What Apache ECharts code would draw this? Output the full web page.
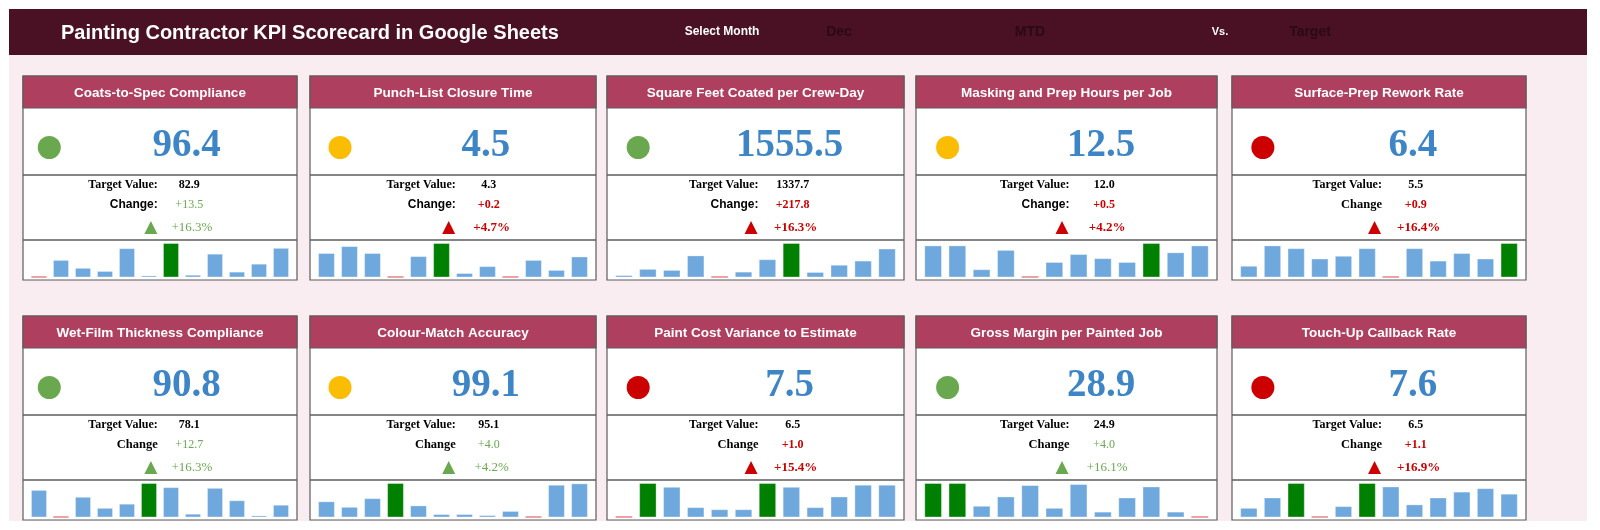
<!DOCTYPE html>
<html>
<head>
<meta charset="utf-8">
<title>Painting Contractor KPI Scorecard</title>
<script src="https://cdn.jsdelivr.net/npm/echarts@6/dist/echarts.min.js"></script>
<style>
  html, body { margin: 0; padding: 0; background: #ffffff; }
  #chart { width: 1600px; height: 530px; }
</style>
</head>
<body>
<div id="chart"></div>
<script>
// ---- data ----
const kpiNames = [
  'Coats-to-Spec Compliance', 'Punch-List Closure Time', 'Square Feet Coated per Crew-Day',
  'Masking and Prep Hours per Job', 'Surface-Prep Rework Rate',
  'Wet-Film Thickness Compliance', 'Colour-Match Accuracy', 'Paint Cost Variance to Estimate',
  'Gross Margin per Painted Job', 'Touch-Up Callback Rate'
]
const actualValues = [96.4, 4.5, 1555.5, 12.5, 6.4, 90.8, 99.1, 7.5, 28.9, 7.6]
const targetValues = [82.9, 4.3, 1337.7, 12.0, 5.5, 78.1, 95.1, 6.5, 24.9, 6.5]
const changeValues = [13.5, 0.2, 217.8, 0.5, 0.9, 12.7, 4.0, 1.0, 4.0, 1.1]
const changePct = [16.3, 4.7, 16.3, 4.2, 16.4, 16.3, 4.2, 15.4, 16.1, 16.9]
// status light: g = on target, y = watch, r = off target
const statusLights = ['g', 'y', 'g', 'y', 'r', 'g', 'y', 'r', 'g', 'r']
// whether the change is favourable (green) or not (red)
const changeGood = [true, false, false, false, false, true, true, false, true, false]
const changeLabels = ['Change:', 'Change:', 'Change:', 'Change:', 'Change',
  'Change', 'Change', 'Change', 'Change', 'Change']

// monthly trend (Jan..Dec), relative scale
const trend1 = [3, 51, 28, 19, 85, 6, 100, 8, 69, 17, 40, 86]
const trend2 = [71, 91, 71, 3, 62, 100, 13, 33, 3, 51, 22, 61]
const trend3 = [7, 25, 22, 64, 3, 17, 53, 100, 16, 37, 49, 84]
const trend4 = [93, 93, 24, 80, 3, 45, 68, 56, 45, 100, 73, 93]
const trend5 = [34, 93, 85, 55, 63, 85, 3, 85, 49, 71, 55, 100]
const trend6 = [80, 3, 60, 28, 40, 100, 88, 11, 86, 50, 6, 37]
const trend7 = [47, 31, 56, 100, 35, 10, 10, 7, 19, 3, 95, 99]
const trend8 = [3, 100, 89, 30, 24, 24, 100, 89, 30, 61, 95, 95]
const trend9 = [100, 100, 34, 61, 94, 28, 97, 17, 58, 90, 17, 3]
const trend10 = [28, 58, 100, 3, 33, 100, 90, 38, 58, 75, 85, 69]
const trends = [trend1, trend2, trend3, trend4, trend5, trend6, trend7, trend8, trend9, trend10]
const months = ['Jan', 'Feb', 'Mar', 'Apr', 'May', 'Jun', 'Jul', 'Aug', 'Sep', 'Oct', 'Nov', 'Dec']

// ---- layout & style ----
const cardLefts = [23, 310, 607, 916, 1232]
const cardWidths = [274, 286, 297, 301, 294]
const colShift = [-5, 0, 0, 0, 0]   // first column's text sits a bit further left
const rowTops = [76, 316]
const HEAD_H = 32, VALUE_H = 67, INFO_H = 65, SPARK_H = 40

const SERIF = '"Liberation Serif", "Times New Roman", serif'
const SANS = '"Liberation Sans", Arial, sans-serif'
const GREEN = '#6aa84f', RED = '#cc0000', YELLOW = '#fbbc04'
const lightColor = { g: GREEN, y: YELLOW, r: RED }
const BORDER = '#5c5c5c'

const chart = echarts.init(document.getElementById('chart'))

function headerText(text, x, color, size) {
  return { type: 'text', z: 2, style: { text, x, y: 32, textAlign: 'center', textVerticalAlign: 'middle',
    fill: color, fontFamily: SANS, fontWeight: 'bold', fontSize: size } }
}

const graphics = [
  { type: 'rect', z: 0, shape: { x: 9, y: 9, width: 1578, height: 512 }, style: { fill: '#f9edf1' } },
  { type: 'rect', z: 1, shape: { x: 9, y: 9, width: 1578, height: 46 }, style: { fill: '#4a1124' } },
  { type: 'text', z: 2, style: { text: 'Painting Contractor KPI Scorecard in Google Sheets', x: 61, y: 33,
    textVerticalAlign: 'middle', fill: '#ffffff', fontFamily: SANS, fontWeight: 'bold', fontSize: 20 } },
  headerText('Select Month', 722, '#ffffff', 12),
  headerText('Dec', 839, '#2a0a14', 14),
  headerText('MTD', 1030, '#2a0a14', 14),
  headerText('Vs.', 1220, '#ffffff', 11),
  headerText('Target', 1310, '#2a0a14', 14)
]

const grids = [], xAxes = [], yAxes = [], series = []

kpiNames.forEach((name, i) => {
  const col = i % 5
  const top = rowTops[Math.floor(i / 5)]
  const left = cardLefts[col]
  const w = cardWidths[col]
  const sx = colShift[col]
  const h = HEAD_H + VALUE_H + INFO_H + SPARK_H
  const good = changeGood[i]
  const chgColor = good ? GREEN : RED
  const chgWeight = good ? 'normal' : 'bold'
  const infoTop = top + HEAD_H + VALUE_H
  const sparkTop = infoTop + INFO_H
  const triX = left + 0.485 * w + sx

  graphics.push(
    { type: 'rect', z: 1, shape: { x: left, y: top, width: w, height: h }, style: { fill: '#ffffff', stroke: BORDER, lineWidth: 1.2 } },
    { type: 'rect', z: 1, shape: { x: left, y: top, width: w, height: HEAD_H }, style: { fill: '#ae3f5e', stroke: BORDER, lineWidth: 1.2 } },
    { type: 'line', z: 2, shape: { x1: left, y1: infoTop, x2: left + w, y2: infoTop }, style: { stroke: BORDER, lineWidth: 1.4 } },
    { type: 'line', z: 2, shape: { x1: left, y1: sparkTop, x2: left + w, y2: sparkTop }, style: { stroke: BORDER, lineWidth: 1.4 } },
    { type: 'text', z: 3, style: { text: name, x: left + w / 2, y: top + 17, textAlign: 'center', textVerticalAlign: 'middle',
      fill: '#ffffff', fontFamily: SANS, fontWeight: 'bold', fontSize: 13.5 } },
    { type: 'circle', z: 3, shape: { cx: left + 0.105 * w + sx / 2, cy: top + 71.5, r: 11.5 }, style: { fill: lightColor[statusLights[i]] } },
    { type: 'text', z: 3, style: { text: actualValues[i].toFixed(1), x: left + 0.615 * w + sx, y: top + 70,
      textAlign: 'center', textVerticalAlign: 'middle', fill: '#3d85c6', fontFamily: SERIF, fontWeight: 'bold', fontSize: 39 } },
    { type: 'text', z: 3, style: { text: 'Target Value:', x: left + 0.51 * w + sx, y: infoTop + 10,
      textAlign: 'right', textVerticalAlign: 'middle', fill: '#000000', fontFamily: SERIF, fontWeight: 'bold', fontSize: 12 } },
    { type: 'text', z: 3, style: { text: targetValues[i].toFixed(1), x: left + 0.625 * w + sx, y: infoTop + 10,
      textAlign: 'center', textVerticalAlign: 'middle', fill: '#000000', fontFamily: SERIF, fontWeight: 'bold', fontSize: 12 } },
    { type: 'text', z: 3, style: { text: changeLabels[i], x: left + 0.51 * w + sx, y: infoTop + 29.5,
      textAlign: 'right', textVerticalAlign: 'middle', fill: '#000000',
      fontFamily: changeLabels[i].endsWith(':') ? SANS : SERIF, fontWeight: 'bold',
      fontSize: changeLabels[i].endsWith(':') ? 12 : 12.5 } },
    { type: 'text', z: 3, style: { text: '+' + changeValues[i].toFixed(1), x: left + 0.625 * w + sx, y: infoTop + 29.5,
      textAlign: 'center', textVerticalAlign: 'middle', fill: chgColor, fontFamily: SERIF, fontWeight: chgWeight, fontSize: 12 } },
    { type: 'polygon', z: 3, shape: { points: [
        [triX, infoTop + 46], [triX + 6.5, infoTop + 59], [triX - 6.5, infoTop + 59]] },
      style: { fill: chgColor } },
    { type: 'text', z: 3, style: { text: '+' + changePct[i].toFixed(1) + '%', x: left + 0.635 * w + sx, y: infoTop + 52.5,
      textAlign: 'center', textVerticalAlign: 'middle', fill: chgColor, fontFamily: SERIF, fontWeight: chgWeight, fontSize: 13 } }
  )

  const vals = trends[i]
  const hi = Math.max(...vals), lo = Math.min(...vals)
  grids.push({ left: left + 5, top: sparkTop + 3, width: w - 10, height: 34.5 })
  xAxes.push({ type: 'category', gridIndex: i, data: months, show: false })
  yAxes.push({ type: 'value', gridIndex: i, min: 0, max: hi, show: false })
  series.push({
    type: 'bar', xAxisIndex: i, yAxisIndex: i, barCategoryGap: '27%', silent: true, z: 5,
    data: vals.map(v => ({
      value: v,
      itemStyle: {
        color: v === hi ? '#008000' : v === lo ? '#e3878a' : '#6fa8dc',
        borderColor: v === lo ? '#e3878a' : 'rgba(255,255,255,0.35)',
        borderWidth: 1
      }
    }))
  })
})

chart.setOption({
  animation: false,
  grid: grids,
  xAxis: xAxes,
  yAxis: yAxes,
  series: series,
  graphic: { elements: graphics }
})
</script>
</body>
</html>
